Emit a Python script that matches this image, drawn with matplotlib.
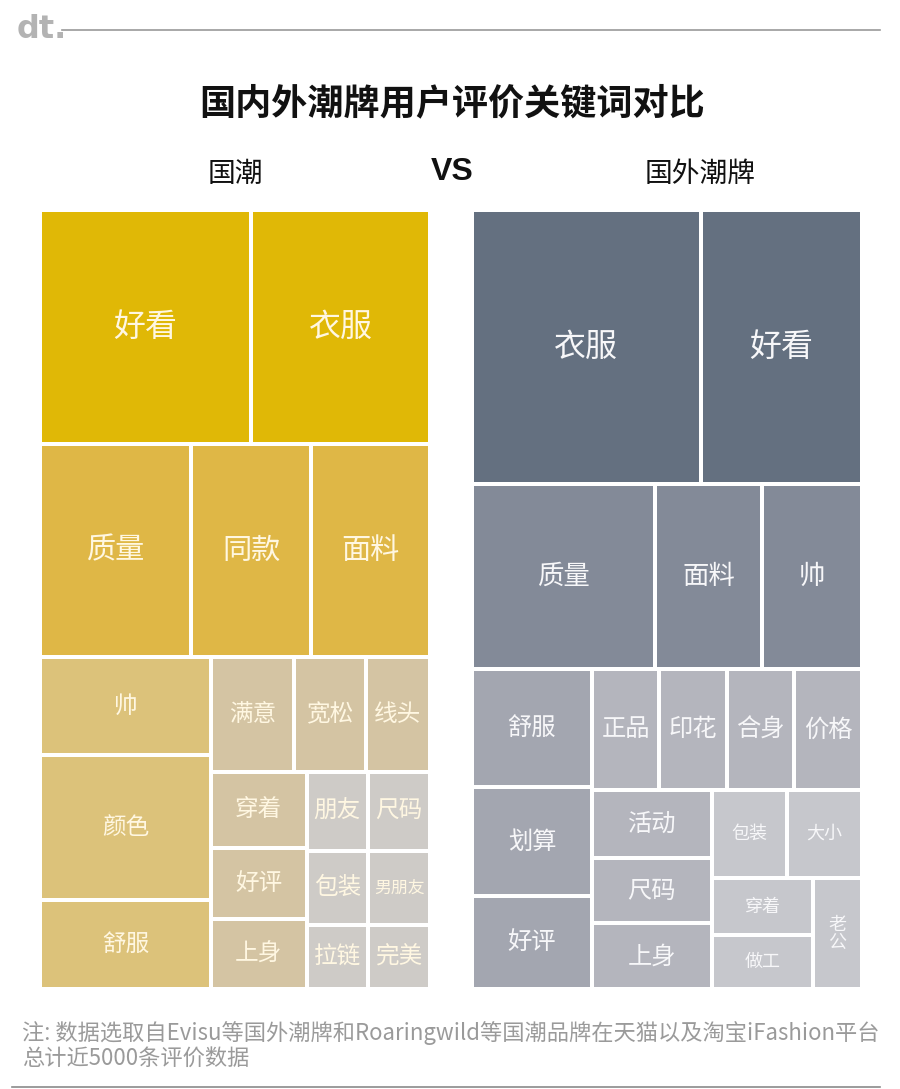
import matplotlib.pyplot as plt
from matplotlib.patches import Rectangle

plt.rcParams['font.family'] = ['Noto Sans CJK SC', 'DejaVu Sans']

# 国潮 keywords and counts
cn_words = ['好看', '衣服', '质量', '同款', '面料', '帅', '颜色', '舒服',
            '满意', '宽松', '线头', '穿着', '好评', '上身',
            '朋友', '尺码', '包装', '男朋友', '拉链', '完美']
cn_counts = [162, 137, 106, 84, 83, 55, 81, 50,
             31, 27, 24, 24, 22, 22,
             16, 16, 15, 15, 13, 13]
cn_tier = [0, 0, 1, 1, 1, 2, 2, 2, 3, 3, 3, 3, 3, 3, 4, 4, 4, 4, 4, 4]

# 国外潮牌 keywords and counts
fr_words = ['衣服', '好看', '质量', '面料', '帅', '舒服', '划算', '好评',
            '正品', '印花', '合身', '价格', '活动', '尺码', '上身',
            '包装', '大小', '穿着', '做工', '老公']
fr_counts = [207, 146, 112, 66, 61, 47, 43, 37,
             27, 27, 27, 27, 27, 26, 26,
             22, 22, 19, 18, 18]
fr_tier = [0, 0, 1, 1, 1, 2, 2, 2, 3, 3, 3, 3, 3, 3, 3, 4, 4, 4, 4, 4]

# nesting of the treemaps (indices); split direction alternates with depth
cn_tree = [[0, 1], [2, 3, 4],
           [[5, 6, 7], [[8, 9, 10], [[11, 12, 13], [[14, 15], [16, 17], [18, 19]]]]]]
fr_tree = [[0, 1], [2, 3, 4],
           [[5, 6, 7], [[8, 9, 10, 11], [[12, 13, 14], [[15, 16], [[17, 18], 19]]]]]]

cn_colors = ['#E0B806', '#DFB746', '#DCC27A', '#D4C4A3', '#CECBC7']
fr_colors = ['#647080', '#838A98', '#A3A6B0', '#B4B5BD', '#C6C7CC']
cn_fs = [23, 21, 17, 17, 17]
fr_fs = [23, 19, 17.5, 17.5, 13]

GAP = 4


def node_sum(node, vals):
    if isinstance(node, int):
        return vals[node]
    return sum(node_sum(c, vals) for c in node)


def layout(node, vals, x0, y0, x1, y1, depth, out):
    if isinstance(node, int):
        out[node] = (x0, y0, x1, y1)
        return
    sums = [node_sum(c, vals) for c in node]
    total = sum(sums)
    pos = y0 if depth % 2 == 0 else x0
    for c, s in zip(node, sums):
        if depth % 2 == 0:
            step = (y1 - y0) * s / total
            layout(c, vals, x0, pos, x1, pos + step, depth + 1, out)
        else:
            step = (x1 - x0) * s / total
            layout(c, vals, pos, y0, pos + step, y1, depth + 1, out)
        pos += step


def draw_treemap(ax, words, vals, tree, tiers, colors, sizes, box, txt_color):
    rects = {}
    layout(tree, vals, box[0], box[1], box[2], box[3], 0, rects)
    for i, w in enumerate(words):
        x0, y0, x1, y1 = rects[i]
        x0 += GAP / 2
        y0 += GAP / 2
        x1 -= GAP / 2
        y1 -= GAP / 2
        ax.add_patch(Rectangle((x0, y0), x1 - x0, y1 - y0,
                               facecolor=colors[tiers[i]], edgecolor='none'))
        fs = sizes[tiers[i]]
        width_px = x1 - x0
        label = w
        if width_px < 50:
            label = '\n'.join(w)
        else:
            # shrink the font when the word does not fit
            fs = min(fs, width_px * 0.88 / len(w) * 72 / 100)
        ax.text((x0 + x1) / 2, (y0 + y1) / 2, label, ha='center', va='center',
                fontsize=fs, color=txt_color, linespacing=1.0)


fig = plt.figure(figsize=(9, 10.89), dpi=100)
ax = fig.add_axes([0, 0, 1, 1])
ax.set_xlim(0, 900)
ax.set_ylim(1089, 0)
ax.axis('off')

# header logo and rule
ax.text(17, 30, 'dt.', fontsize=23, fontweight='heavy', color='#B3B3B3',
        va='center', ha='left', family=['DejaVu Sans'])
ax.plot([62, 880], [30, 30], color='#9A9A9A', lw=1.2)

ax.text(452, 104, '国内外潮牌用户评价关键词对比', ha='center', va='center',
        fontsize=26, fontweight='bold', color='#111111')
ax.text(235, 174, '国潮', ha='center', va='center', fontsize=20, color='#111111')
ax.text(452, 172, 'VS', ha='center', va='center', fontsize=23, fontweight='bold',
        color='#111111', family=['Liberation Sans', 'DejaVu Sans'])
ax.text(700, 174, '国外潮牌', ha='center', va='center', fontsize=20, color='#111111')

draw_treemap(ax, cn_words, cn_counts, cn_tree, cn_tier, cn_colors, cn_fs,
             (40, 210, 430, 989), '#FFF7E2')
draw_treemap(ax, fr_words, fr_counts, fr_tree, fr_tier, fr_colors, fr_fs,
             (472, 210, 862, 989), '#F7F7F9')

ax.text(22, 1033, '注: 数据选取自Evisu等国外潮牌和Roaringwild等国潮品牌在天猫以及淘宝iFashion平台',
        ha='left', va='center', fontsize=16, color='#9A9A9A', fontweight='light')
ax.text(22, 1058, '总计近5000条评价数据', ha='left', va='center', fontsize=16,
        color='#9A9A9A', fontweight='light')
ax.plot([12, 880], [1087, 1087], color='#8A8A8A', lw=1.2)

fig.savefig('out.png', dpi=100, facecolor='white')
